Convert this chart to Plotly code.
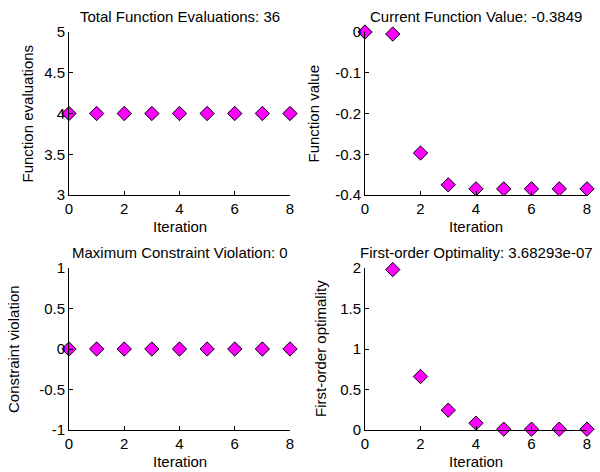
import plotly.graph_objects as go

iterations = [0, 1, 2, 3, 4, 5, 6, 7, 8]
func_evals = [4, 4, 4, 4, 4, 4, 4, 4, 4]
func_values = [0.0, -0.005, -0.297, -0.375, -0.3849, -0.3849, -0.3849, -0.3849, -0.3849]
constr_viol = [0, 0, 0, 0, 0, 0, 0, 0, 0]
opt_iters = [1, 2, 3, 4, 5, 6, 7, 8]
optimality = [1.98, 0.66, 0.245, 0.085, 0.01, 0.01, 0.01, 0.01]

titles = ["Total Function Evaluations: 36", "Current Function Value: -0.3849",
          "Maximum Constraint Violation: 0", "First-order Optimality: 3.68293e-07"]
ylabels = ["Function evaluations", "Function value", "Constraint violation", "First-order optimality"]

W, H = 600, 472
FONT = "Arial, Liberation Sans, sans-serif"

def px_x(x):
    return x / W

def px_y(y):
    return 1 - y / H

xdoms = [(px_x(69), px_x(290)), (px_x(365), px_x(587))]
ydoms = [(px_y(195), px_y(32)), (px_y(430), px_y(268))]

panels = [
    (iterations, func_evals, [3, 5], [3, 3.5, 4, 4.5, 5], ["3", "3.5", "4", "4.5", "5"], 0, 0),
    (iterations, func_values, [-0.4, 0], [-0.4, -0.3, -0.2, -0.1, 0], ["-0.4", "-0.3", "-0.2", "-0.1", "0"], 1, 0),
    (iterations, constr_viol, [-1, 1], [-1, -0.5, 0, 0.5, 1], ["-1", "-0.5", "0", "0.5", "1"], 0, 1),
    (opt_iters, optimality, [0, 2], [0, 0.5, 1, 1.5, 2], ["0", "0.5", "1", "1.5", "2"], 1, 1),
]

fig = go.Figure()
annotations = []
ylabel_x = [27, 313, 13, 320]
for i, (xs, ys, yr, tv, tt, col, row) in enumerate(panels):
    n = "" if i == 0 else str(i + 1)
    fig.add_trace(go.Scatter(
        x=xs, y=ys, mode="markers", xaxis="x" + n, yaxis="y" + n,
        marker=dict(symbol="diamond", size=11, color="#ff00ff",
                    line=dict(color="black", width=1)),
        cliponaxis=False, showlegend=False, hoverinfo="skip"))
    axis_common = dict(showline=True, linecolor="black", linewidth=1, showgrid=False,
                       zeroline=False, ticks="inside", ticklen=4, tickcolor="black",
                       tickfont=dict(family=FONT, size=15, color="black"),
                       fixedrange=True, automargin=False)
    fig.layout["xaxis" + n] = dict(axis_common, domain=xdoms[col], range=[0, 8],
                                   tickvals=[0, 2, 4, 6, 8], anchor="y" + n)
    fig.layout["yaxis" + n] = dict(axis_common, domain=ydoms[row], range=yr,
                                   tickvals=tv, ticktext=tt, anchor="x" + n)
    cx = (xdoms[col][0] + xdoms[col][1]) / 2
    annotations.append(dict(text=titles[i], x=cx, y=ydoms[row][1] + 5 / H,
                            xref="paper", yref="paper", xanchor="center", yanchor="bottom",
                            showarrow=False, font=dict(family=FONT, size=15, color="black")))
    annotations.append(dict(text="Iteration", x=cx, y=ydoms[row][0] - 21 / H,
                            xref="paper", yref="paper", xanchor="center", yanchor="top",
                            showarrow=False, font=dict(family=FONT, size=15, color="black")))
    annotations.append(dict(text=ylabels[i], x=px_x(ylabel_x[i]),
                            y=(ydoms[row][0] + ydoms[row][1]) / 2,
                            xref="paper", yref="paper", xanchor="center", yanchor="middle",
                            textangle=-90, showarrow=False,
                            font=dict(family=FONT, size=15, color="black")))

fig.update_layout(width=W, height=H, margin=dict(l=0, r=0, t=0, b=0, pad=0),
                  paper_bgcolor="white", plot_bgcolor="white",
                  annotations=annotations, showlegend=False)
fig.write_html("out.html", config={"displayModeBar": False},
               post_script="document.body.style.margin='0';document.body.style.overflow='hidden';")
